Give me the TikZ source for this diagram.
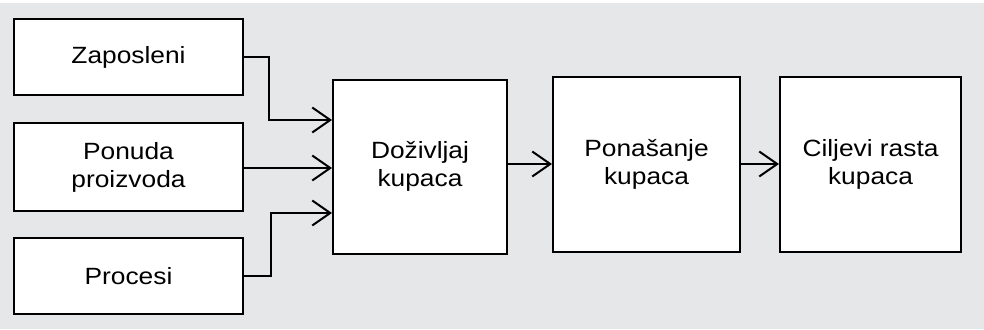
\documentclass[tikz,border=0pt]{standalone}
\usepackage{fontspec}
\setmainfont{Liberation Sans}[FakeStretch=1.12]
\usetikzlibrary{arrows.meta}
\definecolor{bggray}{HTML}{E6E7E9}
\tikzset{
  box/.style={draw=black, line width=2pt, fill=white, inner sep=0pt, align=center,
    font=\fontsize{23.5}{28}\selectfont},
  arr/.style={line width=2pt, -{Straight Barb[length=18pt,width=25pt,line width=2pt]}}
}
\begin{document}
\begin{tikzpicture}[x=1pt,y=-1pt]
\useasboundingbox (0,0) rectangle (984,329);
\fill[white] (0,0) rectangle (984,329);
\fill[bggray] (0,3) rectangle (984,329);
\node[box, minimum width=229pt, minimum height=76pt] (zap) at (128.5,57) {Zaposleni};
\node[box, minimum width=229pt, minimum height=88pt] (pon) at (128.5,167) {Ponuda\\proizvoda};
\node[box, minimum width=229pt, minimum height=76pt] (proc) at (128.5,276) {Procesi};
\node[box, minimum width=174pt, minimum height=174pt] (dz) at (420,166.5) {Doživljaj\\kupaca};
\node[box, minimum width=187pt, minimum height=175pt] (pb) at (646.5,164.5) {Ponašanje\\kupaca};
\node[box, minimum width=181pt, minimum height=175pt] (cil) at (870.5,164.5) {Ciljevi rasta\\kupaca};
\draw[arr] (zap.east) -- ++(25,0) |- (dz.west |- 0,120);
\draw[arr] (pon.east |- 0,168) -- (dz.west |- 0,168);
\draw[arr] (proc.east) -- ++(27,0) |- (dz.west |- 0,213);
\draw[arr] (dz.east |- 0,164) -- (pb.west |- 0,164);
\draw[arr] (pb.east |- 0,164) -- (cil.west |- 0,164);
\end{tikzpicture}
\end{document}
